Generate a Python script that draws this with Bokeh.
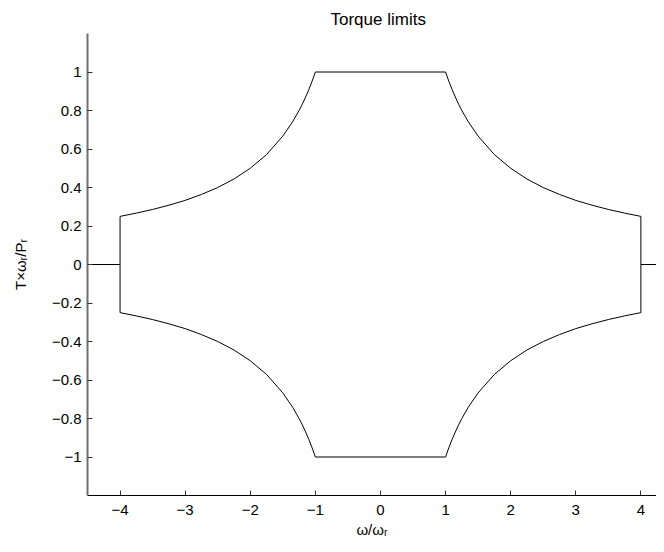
from bokeh.plotting import figure
from bokeh.models import Range1d, FixedTicker
from bokeh.embed import file_html
from bokeh.resources import INLINE

# data
omega = [-4.5, -4.0, -4.0, -3.75, -3.5, -3.25, -3.0, -2.75, -2.5, -2.25, -2.0,
         -1.75, -1.5, -1.35, -1.25, -1.2, -1.15, -1.1, -1.05, -1.0,
         1.0, 1.05, 1.1, 1.15, 1.2, 1.25, 1.35, 1.5, 1.75,
         2.0, 2.25, 2.5, 2.75, 3.0, 3.25, 3.5, 3.75, 4.0, 4.0, 4.5]
torque_upper = [0.0, 0.0, 0.25, 0.267, 0.286, 0.308, 0.333, 0.364, 0.4, 0.444, 0.5,
                0.571, 0.667, 0.741, 0.8, 0.833, 0.87, 0.909, 0.952, 1.0,
                1.0, 0.952, 0.909, 0.87, 0.833, 0.8, 0.741, 0.667, 0.571,
                0.5, 0.444, 0.4, 0.364, 0.333, 0.308, 0.286, 0.267, 0.25, 0.0, 0.0]
torque_lower = [0.0, 0.0, -0.25, -0.267, -0.286, -0.308, -0.333, -0.364, -0.4, -0.444, -0.5,
                -0.571, -0.667, -0.741, -0.8, -0.833, -0.87, -0.909, -0.952, -1.0,
                -1.0, -0.952, -0.909, -0.87, -0.833, -0.8, -0.741, -0.667, -0.571,
                -0.5, -0.444, -0.4, -0.364, -0.333, -0.308, -0.286, -0.267, -0.25, 0.0, 0.0]

x_ticks = [-4, -3, -2, -1, 0, 1, 2, 3, 4]
x_tick_labels = ["\u22124", "\u22123", "\u22122", "\u22121", "0", "1", "2", "3", "4"]
y_ticks = [-1, -0.8, -0.6, -0.4, -0.2, 0, 0.2, 0.4, 0.6, 0.8, 1]
y_tick_labels = ["\u22121", "\u22120.8", "\u22120.6", "\u22120.4", "\u22120.2", "0",
                 "0.2", "0.4", "0.6", "0.8", "1"]
title_text = "Torque limits"
x_label = "\u03c9/\u03c9\u1d63"
y_label = "T\u00d7\u03c9\u1d63/P\u1d63"

FONT = "Liberation Sans"
FS = "15px"

p = figure(width=656, height=544, output_backend="svg", toolbar_location=None,
           x_range=Range1d(-4.5, 4.24), y_range=Range1d(-1.2, 1.2),
           min_border_left=87, min_border_right=0, min_border_top=33, min_border_bottom=49,
           title=title_text)
p.outline_line_color = None
p.xgrid.visible = False
p.ygrid.visible = False
p.background_fill_color = "white"
p.border_fill_color = "white"

p.title.align = "left"
p.title.offset = 243
p.title.standoff = 9
p.title.text_font = FONT
p.title.text_font_size = "17px"
p.title.text_font_style = "normal"
p.title.text_color = "black"

p.line(omega, torque_upper, line_color="black", line_width=1)
p.line(omega, torque_lower, line_color="black", line_width=1)

for ax in (p.xaxis[0], p.yaxis[0]):
    ax.major_tick_in = 5
    ax.major_tick_out = 0
    ax.minor_tick_in = 0
    ax.minor_tick_out = 0
    ax.major_label_text_font = FONT
    ax.major_label_text_font_size = FS
    ax.major_label_text_color = "black"
    ax.major_tick_line_color = "#333333"
    ax.axis_label_text_font = FONT
    ax.axis_label_text_font_size = FS
    ax.axis_label_text_font_style = "normal"
    ax.axis_label_text_color = "black"

p.xaxis[0].ticker = FixedTicker(ticks=x_ticks)
p.xaxis[0].major_label_overrides = {t: l for t, l in zip(x_ticks, x_tick_labels)}
p.xaxis[0].axis_line_color = "black"
p.xaxis[0].axis_line_width = 1
p.xaxis[0].major_label_standoff = 9
p.xaxis[0].axis_label = x_label
p.xaxis[0].axis_label_standoff = 3

p.yaxis[0].ticker = FixedTicker(ticks=y_ticks)
p.yaxis[0].major_label_overrides = {t: l for t, l in zip(y_ticks, y_tick_labels)}
p.yaxis[0].axis_line_color = "#707070"
p.yaxis[0].axis_line_width = 2
p.yaxis[0].major_label_standoff = 6
p.yaxis[0].axis_label = y_label
p.yaxis[0].axis_label_standoff = 20

open("out.html", "w").write(file_html(p, INLINE))
